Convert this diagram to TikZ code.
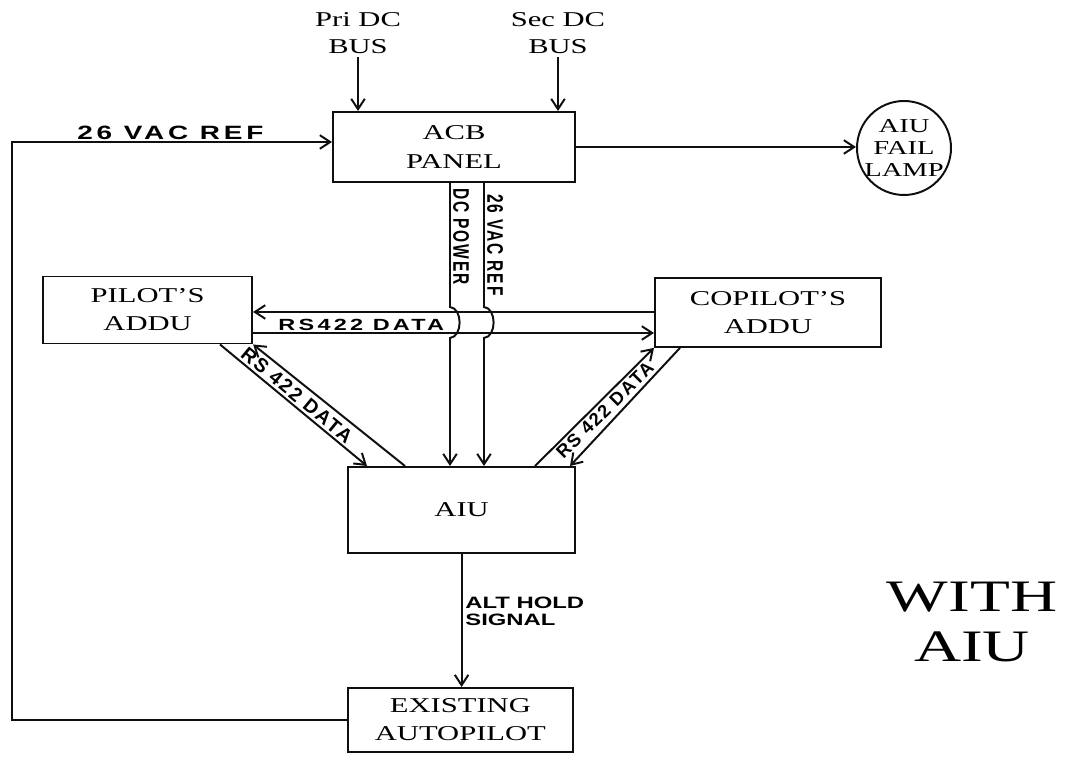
\documentclass[tikz,border=0pt]{standalone}
\usepackage{fontspec}
\setmainfont{Liberation Serif}[FakeStretch=1.45]
\newfontfamily\handfont{Liberation Sans}[FakeStretch=1.45,LetterSpace=20]
\newfontfamily\vhandfont{Liberation Sans}[FakeStretch=0.69,LetterSpace=8]
\newfontfamily\dhandfont{Liberation Sans}[LetterSpace=10]
\usetikzlibrary{arrows.meta,positioning,shapes.geometric}
\definecolor{ink}{RGB}{15,15,15}
\tikzset{
  >={Straight Barb[length=2.6mm,width=3.4mm]},
  unit/.style 2 args={draw=ink,minimum width=#1,minimum height=#2,inner sep=2pt,
    align=center,font=\fontsize{15}{20}\selectfont},
  bus/.style={align=center,inner sep=2pt,font=\fontsize{15}{19}\selectfont},
  lamp/.style={circle,draw=ink,minimum size=2.35cm,inner sep=0pt},
  lamptext/.style={align=center,inner sep=0pt,font=\fontsize{14}{15.5}\selectfont},
  tag/.style={inner sep=1pt,font=\handfont\bfseries\fontsize{#1}{#1}\selectfont},
  vtag/.style={rotate=-90,anchor=south,inner sep=1.5pt,
    font=\vhandfont\bfseries\fontsize{16}{16}\selectfont},
  dtag/.style={inner sep=1.5pt,font=\dhandfont\bfseries\fontsize{#1}{#1}\selectfont},
  sigtag/.style={inner sep=2pt,align=left,
    font=\handfont\bfseries\addfontfeature{LetterSpace=0}\fontsize{11.7}{12}\selectfont},
}

\begin{document}
\begin{tikzpicture}[line width=1.4pt,draw=ink]
  \useasboundingbox (0,0) rectangle (26.775,19);
  % units
  \node[unit={6.05cm}{1.75cm}] (acb) at (11.35,15.325) {ACB\\PANEL};
  \node[bus] (pri) at (8.95,18.175) {Pri DC\\BUS};
  \node[bus] (sec) at (13.95,18.175) {Sec DC\\BUS};
  \node[lamp,label={[lamptext]center:{AIU\\FAIL\\LAMP}}] (lamp) at (22.6,15.3) {};
  \node[unit={5.225cm}{1.675cm}] (pilot) at (3.69,11.25) {PILOT'S\\ADDU};
  \node[unit={5.65cm}{1.725cm}] (copilot) at (19.2,11.19) {COPILOT'S\\ADDU};
  \node[unit={5.675cm}{2.15cm}] (aiu) at (11.54,6.25) {AIU};
  \node[unit={5.625cm}{1.6cm}] (auto) at (11.51,1.0) {EXISTING\\AUTOPILOT};
  \node[align=center,font=\fontsize{32}{35.6}\selectfont] (with) at (24.3,3.45) {WITH\\AIU};

  % power in, lamp out
  \draw[->] (pri) -- (pri |- acb.north);
  \draw[->] (sec) -- (sec |- acb.north);
  \draw[->] (acb) -- (acb -| lamp.west);

  % 26 VAC reference loop
  \coordinate (loop) at (0.3,15.45);
  \draw[->] (auto.west) -| (loop) -- node[tag=13.7,above,pos=0.495] {26 VAC REF} (acb.west |- loop);

  % RS422 bus between the ADDUs
  \coordinate (busU) at (0,11.2);
  \coordinate (busL) at (0,10.675);
  \draw[->] (copilot.west |- busU) -- (pilot.east |- busU);
  \draw[->] (pilot.east |- busL) -- node[tag=11.5,above,pos=0.27] {RS422 DATA} (copilot.west |- busL);

  % panel feeds, hopping over the bus
  \coordinate (dc) at (11.25,0);
  \coordinate (ac) at (12.1,0);
  \coordinate (hopT) at (0,11.325);
  \coordinate (hopB) at (0,10.55);
  \foreach \f/\txt/\p in {dc/DC POWER/0.43,ac/26 VAC REF/0.5}{
    \draw[->] (acb.south -| \f) -- node[vtag,pos=\p] {\txt} (\f |- hopT)
      .. controls +(0.32,-0.03) and +(0.32,0.03) .. (\f |- hopB) -- (aiu.north -| \f);
  }

  % diagonal data links
  \draw[->] ([xshift=1.81cm]pilot.south) -- node[dtag=13.9,sloped,above,pos=0.48] {RS 422 DATA} ([xshift=-2.365cm]aiu.north);
  \draw[->] ([xshift=-1.415cm]aiu.north) -- (pilot.south east);
  \draw[->] ([xshift=1.835cm]aiu.north) -- node[dtag=13,sloped,below,pos=0.53] {RS 422 DATA} (copilot.south west);
  \draw[->] ([xshift=-2.2cm]copilot.south) -- ([xshift=2.71cm]aiu.north);

  % AIU to autopilot
  \draw[->] (aiu.south) -- node[sigtag,right,pos=0.43] {ALT HOLD\\SIGNAL} (aiu.south |- auto.north);
\end{tikzpicture}
\end{document}
